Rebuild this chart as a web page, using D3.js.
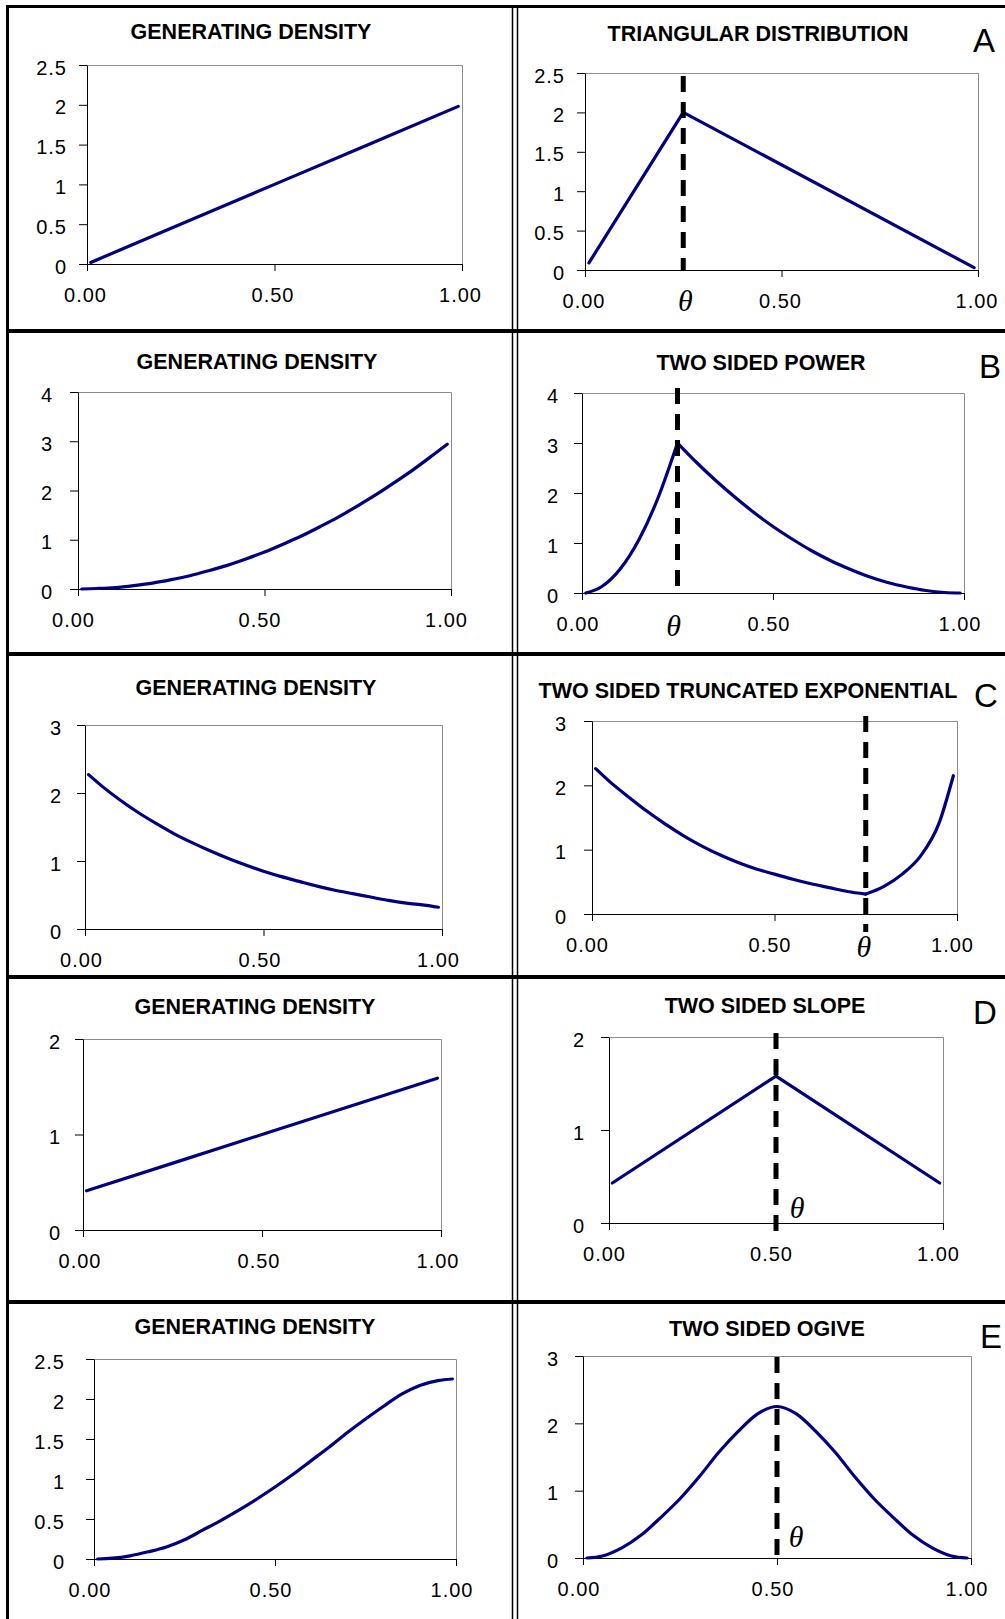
<!DOCTYPE html>
<html>
<head>
<meta charset="utf-8">
<script src="https://cdn.jsdelivr.net/npm/d3@7/dist/d3.min.js"></script>
<style>
	body { margin: 0; background: #fff; }
	svg { display: block; }
</style>
</head>
<body>
<svg id="chart" width="1005" height="1619"></svg>
<script>
const xTickValues = [0, 0.5, 1];
const xTickLabels = ['0.00', '0.50', '1.00'];

const yTicks25 = [0, 0.5, 1, 1.5, 2, 2.5];
const yLabels25 = ['0', '0.5', '1', '1.5', '2', '2.5'];
const yTicks4 = [0, 1, 2, 3, 4];
const yLabels4 = ['0', '1', '2', '3', '4'];
const yTicks3 = [0, 1, 2, 3];
const yLabels3 = ['0', '1', '2', '3'];
const yTicks2 = [0, 1, 2];
const yLabels2 = ['0', '1', '2'];

const rowLetters = ['A', 'B', 'C', 'D', 'E'];
const leftTitles = ['GENERATING DENSITY', 'GENERATING DENSITY', 'GENERATING DENSITY', 'GENERATING DENSITY', 'GENERATING DENSITY'];
const rightTitles = ['TRIANGULAR DISTRIBUTION', 'TWO SIDED POWER', 'TWO SIDED TRUNCATED EXPONENTIAL', 'TWO SIDED SLOPE', 'TWO SIDED OGIVE'];
const thetas = [0.25, 0.25, 0.75, 0.5, 0.5];

// x positions the curves were read at
const xFine = [0.01, 0.05, 0.10, 0.15, 0.20, 0.25, 0.30, 0.35, 0.40, 0.45, 0.50, 0.55, 0.60, 0.65, 0.70, 0.75, 0.80, 0.85, 0.90, 0.95, 0.99];
const xLine = [0.01, 0.50, 0.99];
const xTri = [0.01, 0.25, 0.99];

const genA = [0.02, 1.00, 1.98];
const triA = [0.09, 2.00, 0.03];
const genB = [0.00, 0.01, 0.03, 0.07, 0.12, 0.19, 0.27, 0.37, 0.48, 0.61, 0.75, 0.91, 1.08, 1.27, 1.47, 1.69, 1.92, 2.17, 2.43, 2.71, 2.94];
const tspB = [0.00, 0.12, 0.48, 1.08, 1.92, 3.00, 2.61, 2.25, 1.92, 1.61, 1.33, 1.08, 0.85, 0.65, 0.48, 0.33, 0.21, 0.12, 0.05, 0.01, 0.00];
const genC = [2.27, 2.09, 1.89, 1.71, 1.55, 1.40, 1.27, 1.15, 1.04, 0.94, 0.85, 0.77, 0.70, 0.63, 0.57, 0.52, 0.47, 0.42, 0.38, 0.35, 0.32];
const tseC = [2.26, 2.05, 1.82, 1.60, 1.40, 1.22, 1.06, 0.92, 0.80, 0.70, 0.62, 0.54, 0.47, 0.41, 0.35, 0.31, 0.43, 0.62, 0.90, 1.40, 2.15];
const genD = [0.41, 1.00, 1.59];
const tssD = [0.43, 1.58, 0.43];
const genE = [0.00, 0.01, 0.04, 0.09, 0.15, 0.24, 0.36, 0.48, 0.61, 0.75, 0.90, 1.06, 1.23, 1.40, 1.58, 1.75, 1.91, 2.06, 2.17, 2.23, 2.25];
const tsoE = [0.00, 0.03, 0.15, 0.34, 0.60, 0.88, 1.21, 1.57, 1.88, 2.14, 2.25, 2.14, 1.88, 1.57, 1.21, 0.88, 0.60, 0.34, 0.15, 0.03, 0.00];

const LINE_COLOR = '#000080';
const SANS = '"Liberation Sans", Arial, sans-serif';
const SERIF = '"Liberation Serif", "Times New Roman", serif';

const svg = d3.select('#chart');

const panels = [
	{ xs: xLine, ys: genA, yTicks: yTicks25, yLabels: yLabels25, title: leftTitles[0],
		left: 87, right: 462, top: 65, bottom: 264, titleX: 251, titleY: 39, yGap: 20, xDx: -2 },
	{ xs: xTri, ys: triA, yTicks: yTicks25, yLabels: yLabels25, title: rightTitles[0], theta: thetas[0], sharp: true,
		left: 585, right: 978, top: 73, bottom: 270, titleX: 758, titleY: 41, yGap: 20, xDx: -1.5,
		letter: rowLetters[0], letterX: 984, letterY: 52, dashTop: 3, dashBottom: 0, thetaDx: 2, thetaDy: 41 },
	{ xs: xFine, ys: genB, yTicks: yTicks4, yLabels: yLabels4, title: leftTitles[1],
		left: 78, right: 451, top: 392, bottom: 589, titleX: 257, titleY: 369, yGap: 25, xDx: -5 },
	{ xs: xFine, ys: tspB, yTicks: yTicks4, yLabels: yLabels4, title: rightTitles[1], theta: thetas[1], sharp: true,
		left: 582, right: 964, top: 393, bottom: 593, titleX: 761, titleY: 370, yGap: 23, xDx: -4.5,
		letter: rowLetters[1], letterX: 990, letterY: 378, dashTop: -5, dashBottom: 1, thetaDx: -4, thetaDy: 43 },
	{ xs: xFine, ys: genC, yTicks: yTicks3, yLabels: yLabels3, title: leftTitles[2],
		left: 85, right: 442, top: 725, bottom: 929, titleX: 256, titleY: 695, yGap: 23, xDx: -4 },
	{ xs: xFine, ys: tseC, yTicks: yTicks3, yLabels: yLabels3, title: rightTitles[2], theta: thetas[2], sharp: true,
		left: 592, right: 957, top: 721, bottom: 914, titleX: 748, titleY: 698, yGap: 25, xDx: -5,
		letter: rowLetters[2], letterX: 986, letterY: 707, dashTop: -5, dashBottom: 18, thetaDx: -2, thetaDy: 43 },
	{ xs: xLine, ys: genD, yTicks: yTicks2, yLabels: yLabels2, title: leftTitles[3],
		left: 83, right: 441, top: 1039, bottom: 1230, titleX: 255, titleY: 1014, yGap: 22, xDx: -3.5 },
	{ xs: xLine, ys: tssD, yTicks: yTicks2, yLabels: yLabels2, title: rightTitles[3], theta: thetas[3], sharp: true,
		left: 609, right: 943, top: 1037, bottom: 1223, titleX: 765, titleY: 1013, yGap: 24, xDx: -5,
		letter: rowLetters[3], letterX: 985, letterY: 1024, dashTop: -4, dashBottom: 17, thetaDx: 21, thetaDy: -5 },
	{ xs: xFine, ys: genE, yTicks: yTicks25, yLabels: yLabels25, title: leftTitles[4],
		left: 94, right: 456, top: 1359, bottom: 1559, titleX: 255, titleY: 1334, yGap: 29, xDx: -4.5 },
	{ xs: xFine, ys: tsoE, yTicks: yTicks3, yLabels: yLabels3, title: rightTitles[4], theta: thetas[4], sharp: false,
		left: 583, right: 971, top: 1356, bottom: 1558, titleX: 767, titleY: 1336, yGap: 24, xDx: -4.5,
		letter: rowLetters[4], letterX: 991, letterY: 1348, dashTop: 1, dashBottom: 7, thetaDx: 19, thetaDy: -11 }
];

const drawFrame = function()
{
	const frame = svg.append('g').attr('stroke', '#000').attr('fill', 'none');
	frame.append('line').attr('x1', 6).attr('x2', 1005).attr('y1', 6.5).attr('y2', 6.5).attr('stroke-width', 3);
	frame.append('line').attr('x1', 7.5).attr('x2', 7.5).attr('y1', 5).attr('y2', 1619).attr('stroke-width', 3);
	[331, 654, 977, 1302].forEach(function(yPos){
		frame.append('line').attr('x1', 6).attr('x2', 1005).attr('y1', yPos).attr('y2', yPos).attr('stroke-width', 4);
	});
	[512.5, 517.5].forEach(function(xPos){
		frame.append('line').attr('x1', xPos).attr('x2', xPos).attr('y1', 5).attr('y2', 1619).attr('stroke-width', 1.5);
	});
}

const styleTickText = function(sel)
{
	sel.attr('font-size', 20)
		.attr('letter-spacing', 1)
		.attr('font-family', SANS)
		.attr('fill', '#000');
}

const drawPanel = function(cfg)
{
	const yMax = cfg.yTicks[cfg.yTicks.length - 1];
	const x = d3.scaleLinear().domain([0, 1]).range([cfg.left, cfg.right]);
	const y = d3.scaleLinear().domain([0, yMax]).range([cfg.bottom, cfg.top]);
	const g = svg.append('g');

	// grey top and right edge of the plot area
	g.append('path')
		.attr('d', `M${x(0)},${y(yMax) + 0.5}H${x(1) + 0.5}V${y(0)}`)
		.attr('fill', 'none')
		.attr('stroke', '#8c8c8c')
		.attr('stroke-width', 1);

	const yAxis = d3.axisLeft(y).tickValues(cfg.yTicks).tickFormat((d, i) => cfg.yLabels[i]).tickSize(8).tickSizeOuter(0);
	g.append('g')
		.attr('transform', `translate(${cfg.left},0)`)
		.call(yAxis)
		.call(function(a){
			a.select('.domain').attr('stroke', '#000');
			a.selectAll('line').attr('stroke', '#000');
			a.selectAll('text')
				.attr('x', -cfg.yGap)
				.attr('dy', '0.45em')
				.call(styleTickText);
		});

	const xAxis = d3.axisBottom(x).tickValues(xTickValues).tickFormat((d, i) => xTickLabels[i]).tickSize(7).tickSizeOuter(0);
	g.append('g')
		.attr('transform', `translate(0,${cfg.bottom})`)
		.call(xAxis)
		.call(function(a){
			a.select('.domain').attr('stroke', '#000');
			a.selectAll('line').attr('stroke', '#000');
			a.selectAll('text')
				.attr('x', cfg.xDx)
				.attr('y', 38)
				.attr('dy', 0)
				.call(styleTickText);
		});

	const points = cfg.xs.map((d, i) => ({ x: d, y: cfg.ys[i] }));
	const lineGen = d3.line().x((d) => x(d.x)).y((d) => y(d.y)).curve(d3.curveMonotoneX);
	const segments = (cfg.sharp)
		? [points.filter((d) => d.x <= cfg.theta), points.filter((d) => d.x >= cfg.theta)]
		: [points];

	segments.forEach(function(seg){
		g.append('path')
			.attr('d', lineGen(seg))
			.attr('fill', 'none')
			.attr('stroke', LINE_COLOR)
			.attr('stroke-width', 3.2)
			.attr('stroke-linejoin', 'round')
			.attr('stroke-linecap', 'round');
	});

	g.append('text')
		.attr('x', cfg.titleX)
		.attr('y', cfg.titleY)
		.attr('text-anchor', 'middle')
		.attr('font-family', SANS)
		.attr('font-weight', 'bold')
		.attr('font-size', 21.5)
		.text(cfg.title);

	if(cfg.theta == null)
	{
		return;
	}

	g.append('line')
		.attr('x1', x(cfg.theta))
		.attr('x2', x(cfg.theta))
		.attr('y1', y(yMax) + cfg.dashTop)
		.attr('y2', y(0) + cfg.dashBottom)
		.attr('stroke', '#000')
		.attr('stroke-width', 5)
		.attr('stroke-dasharray', '16,10');

	g.append('text')
		.attr('x', x(cfg.theta) + cfg.thetaDx)
		.attr('y', y(0) + cfg.thetaDy)
		.attr('text-anchor', 'middle')
		.attr('font-family', SERIF)
		.attr('font-style', 'italic')
		.attr('font-size', 30)
		.text('\u03B8');

	g.append('text')
		.attr('x', cfg.letterX)
		.attr('y', cfg.letterY)
		.attr('text-anchor', 'middle')
		.attr('font-family', SANS)
		.attr('font-size', 33)
		.text(cfg.letter);
}

drawFrame();
panels.forEach(drawPanel);
</script>
</body>
</html>
